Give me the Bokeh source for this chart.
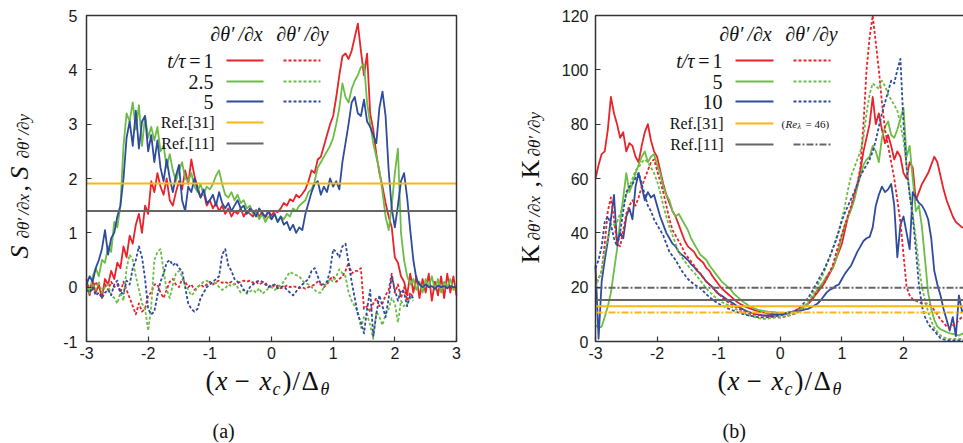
import math
import numpy as np
from bokeh.plotting import figure
from bokeh.layouts import row
from bokeh.models import Label, FixedTicker, Range1d, BoxAnnotation
from bokeh.embed import file_html
from bokeh.resources import INLINE

# ---------------- data ----------------
X = np.round(np.arange(-3.0, 3.0001, 0.05), 2)      # common x grid (x - x_c)/Delta
XD = X[:107]                                          # dotted curves of panel (a) stop at 2.3

# panel (a): skewness S of d theta'/dx (solid) and d theta'/dy (dotted)
A_RED_X = [0.15,-0.15,0.1,-0.1,0.05,-0.2,0.15,0.05,0.3,0.15,
           0.45,0.35,0.75,0.55,0.95,0.8,1.15,1.35,1.0,1.5,
           1.35,1.95,1.75,2.1,1.85,1.7,2.0,1.6,1.5,1.75,
           1.95,1.8,2.15,1.9,2.35,2.05,1.85,1.65,1.75,1.5,
           1.6,1.45,1.55,1.4,1.5,1.35,1.45,1.3,1.4,1.35,
           1.45,1.3,1.4,1.35,1.3,1.42,1.3,1.38,1.28,1.4,
           1.32,1.4,1.38,1.45,1.55,1.5,1.62,1.58,1.7,1.65,
           1.72,1.8,1.95,2.15,2.1,2.35,2.4,2.6,2.8,3.0,
           3.15,3.5,3.9,4.25,4.3,4.2,4.35,4.6,4.85,4.35,
           3.9,4.3,3.2,2.9,2.45,2.1,1.85,1.55,1.3,1.1,
           0.55,0.45,0.2,0.1,-0.15,0.25,-0.1,0.2,-0.2,0.15,
           -0.1,0.25,-0.25,0.1,-0.15,0.2,-0.2,0.25,-0.1,0.2,
           -0.15]
A_GRN_X = [0.05,-0.1,0.2,0.35,0.2,0.5,0.45,0.75,0.65,1.2,
           1.1,1.5,2.6,3.2,3.05,3.4,2.9,3.35,2.6,3.15,
           2.75,2.95,2.7,2.95,2.5,2.6,2.2,2.45,2.15,1.95,
           2.15,2.3,2.0,1.95,2.1,1.85,1.75,1.9,1.7,1.85,
           1.8,1.9,2.05,2.15,1.9,1.7,1.65,1.75,1.6,1.7,
           1.55,1.6,1.45,1.5,1.35,1.4,1.25,1.35,1.2,1.3,
           1.25,1.35,1.2,1.3,1.25,1.35,1.3,1.45,1.4,1.5,
           1.55,1.6,1.75,1.8,1.95,2.2,2.3,2.4,2.5,2.6,
           2.75,3.0,3.3,3.75,3.5,3.4,3.65,3.8,3.9,4.05,
           4.1,3.4,3.0,2.65,2.4,2.15,1.75,1.3,1.05,1.5,
           2.1,2.55,1.0,0.5,0.2,0.05,0.15,-0.05,0.1,-0.1,
           0.15,0.0,0.2,-0.05,0.15,-0.1,0.1,0.0,0.15,-0.05,
           0.05]
A_BLU_X = [0.05,0.2,0.1,0.35,0.5,0.7,1.05,0.6,0.9,1.0,
           1.3,1.5,2.0,2.75,3.05,2.6,3.25,2.55,3.05,3.15,
           2.5,2.8,2.3,2.7,2.2,1.95,2.35,2.0,1.75,2.05,
           2.25,1.6,1.4,1.85,1.75,2.0,1.8,1.65,1.8,1.55,
           1.6,1.7,1.5,1.75,1.55,1.45,1.55,1.4,1.5,1.6,
           1.45,1.5,1.35,1.45,1.4,1.3,1.45,1.35,1.3,1.4,
           1.25,1.35,1.2,1.3,1.15,1.2,1.05,1.15,1.0,1.1,
           1.05,1.35,1.55,1.75,1.9,1.95,1.7,1.85,1.75,2.0,
           1.85,1.95,1.8,2.3,2.65,3.0,3.4,3.5,3.2,3.15,
           3.45,3.05,2.95,2.8,2.65,3.3,3.6,3.15,2.15,1.45,
           1.1,1.5,1.95,2.1,1.65,1.05,0.5,0.15,0.05,0.0,
           0.05,0.0,0.02,-0.03,0.03,0.0,0.02,-0.02,0.02,0.0,
           0.0]
A_RED_Y = [0.0,0.05,-0.05,0.1,0.0,-0.1,0.05,-0.05,0.1,0.0,
           0.05,-0.1,0.1,-0.05,-0.2,-0.35,-0.5,-0.3,-0.45,-0.4,
           -0.15,-0.1,0.05,0.05,-0.1,-0.2,-0.05,0.1,0.15,0.05,
           0.0,0.15,0.1,0.0,0.05,-0.05,0.0,0.05,0.0,0.05,
           0.1,0.05,0.1,0.12,0.08,0.1,0.06,0.1,0.05,0.08,
           0.1,0.12,0.1,0.12,0.08,0.1,0.05,0.08,0.05,0.0,
           0.05,0.0,0.03,-0.02,0.0,0.03,0.0,0.02,0.0,-0.02,
           0.0,-0.03,0.0,0.02,0.05,0.1,0.05,0.0,0.05,0.15,
           0.2,0.1,0.15,0.2,0.3,0.45,0.25,0.3,0.3,0.35,
           -0.4,-0.35,-0.45,-0.3,-0.2,-0.35,-0.3,-0.15,-0.05,0.25,
           -0.1,0.05,-0.2,0.0,-0.25,-0.1,-0.2]
A_GRN_Y = [0.0,-0.1,0.05,-0.05,0.1,-0.1,0.0,0.05,-0.15,-0.2,
           -0.3,-0.1,-0.25,0.35,0.6,0.5,0.2,-0.05,-0.3,-0.4,
           -0.8,-0.35,0.5,0.65,0.7,0.3,-0.05,-0.2,0.05,0.25,
           0.3,0.2,0.05,-0.05,-0.15,-0.1,0.0,0.05,0.1,0.12,
           0.08,0.05,0.08,0.0,-0.05,-0.02,0.05,0.02,0.06,0.0,
           -0.1,-0.05,-0.12,-0.08,-0.05,-0.1,-0.02,-0.12,-0.08,-0.02,
           0.0,-0.05,-0.02,0.05,0.1,0.2,0.28,0.25,0.22,0.2,
           0.12,0.08,0.05,0.0,-0.05,-0.1,-0.1,0.0,0.08,0.15,
           0.1,0.2,0.33,0.25,0.2,-0.1,-0.25,-0.35,-0.45,-0.75,
           -0.55,-0.5,-0.7,-0.95,-0.45,-0.55,-0.7,-0.5,-0.4,-0.2,
           -0.3,-0.65,-0.25,-0.35,-0.3,-0.2,-0.25]
A_BLU_Y = [-0.05,-0.1,0.0,-0.15,-0.1,-0.2,-0.1,-0.05,-0.15,0.05,
           0.12,-0.1,-0.12,0.12,0.05,0.35,0.5,0.75,0.55,0.15,
           -0.4,-0.5,-0.45,-0.15,0.1,0.25,0.45,0.5,0.4,0.45,
           0.35,0.3,0.0,-0.3,-0.4,-0.45,-0.4,-0.2,-0.1,0.0,
           0.05,0.1,0.15,0.2,0.6,0.7,0.4,0.3,0.15,0.1,
           0.05,-0.05,-0.1,0.0,0.05,0.1,0.12,0.1,0.08,0.0,
           0.02,0.05,-0.02,0.0,0.02,-0.05,-0.1,-0.15,-0.08,0.0,
           0.05,0.1,0.15,0.3,0.35,0.2,0.05,0.05,0.1,0.3,
           0.7,0.65,0.55,0.75,0.8,0.45,0.1,-0.2,-0.5,-0.65,
           -0.85,-0.4,-0.05,-0.9,-0.5,-0.15,-0.35,-0.55,-0.2,0.2,
           -0.05,-0.25,-0.05,-0.1,-0.35,-0.15,-0.2]
A_REF31 = 1.91
A_REF11 = 1.40

# panel (b): flatness K
B_RED_X = [60,65,69,70,78,90,84,80,75,77,
           70,73,72,68,66,72,77,80,74,70,
           68,63,58,54,51,48,46,43,40,37,
           35,34,33,31,30,29,27,26,24,22.5,
           21,19.5,18.5,17.5,16.5,15.5,14.5,13.8,13.2,12.6,
           12.2,11.8,11.4,11.0,10.8,10.6,10.3,10.2,10.1,10.0,
           10.0,10.2,10.5,10.8,11.0,11.4,12,12.6,13.2,13.9,
           15,16.5,18,19.5,21,23,25,27,30,33,
           36,41,46,49,53,57,63,70,75,80,
           90,80,84,78,73,76,72,67,70,68,
           62,60,66,64,52,55,58,60,62,65,
           68,66,61,56,52,49,46,44,43,42,
           42]
B_RED_Y = [22,23,26,36,48,53,45,36,35,41,
           47,50,52,50,53,57,60,63,66,67,
           63,59,55,50,45,41,39,37,35,32.5,
           31,29.5,28,26.5,25,23.5,22,21,19.8,18.8,
           17.5,16.5,15.3,14.5,13.8,13,12.4,11.8,11.2,10.7,
           10.2,10,9.8,9.7,9.6,9.4,9.3,9.2,9.0,8.9,
           8.8,9,9.3,9.6,10,10.3,11,11.8,12.8,13.9,
           15.3,16.8,18.3,19.5,21,23,25.5,28,32,36,
           39.5,43,46.5,50,54,58,64,80,100,112,
           120,110,100,88,78,72,66,60,52,44,
           32,20,17,15.5,15,14.5,14,14,13.9,13,
           11.5,10,8,7,5.5,5,6,6.5,8,9,
           9.5]
B_GRN_X = [6,5,5.5,9,13,18,26,34,44,53,
           62,55,58,62,65,68,70,66,68,69,
           65,62,57,54,52,48,46,47,45,43,
           41,38,36,34,32,31,30,28,26.5,25,
           23.5,22,21,20,19,17.5,16.5,15.5,14.5,13.8,
           13,12.4,12,11.6,11.4,11.2,11.0,10.9,10.8,10.6,
           10.4,10.3,10.4,10.6,10.8,11,11.6,12.2,13,13.9,
           15.5,17,19,20.5,22,24,25.5,27,30,34,
           39,43,46,48.5,52,57,61,65,67,68,
           72,70,66,75,79,81,76,75,78,82,
           86,68,72,60,48,50,42,30,18,12,
           8,5.5,4.5,4,3.5,3,2.8,2.5,2.2,2.8,
           3]
B_GRN_Y = [20,23,26,33,38,42,43,44,47,50,
           54,57,60,63,64,66,67,66,64,62,
           59,55,50,46,42,39,36,33,31,29.5,
           28,26.5,25.5,24,22.5,21,19.5,18.3,17.2,16.2,
           15.3,14.5,14,13.4,12.8,12.2,11.6,11,10.5,10,
           9.6,9.2,8.9,8.6,8.4,8.3,8.4,8.6,8.8,9,
           9,9.2,9.4,9.7,10,10.3,11,12,13.2,14.5,
           16.3,18.5,20.5,22.5,25,28,31,34,37.5,41,
           45,50,56,61,64,67,70,75,84,91,
           95,94,93,96,94,91,89,87,85,80,
           74,65,55,47,38,28,20,15,11,7.5,
           5,3.5,2.2,1.5,1.2,1,1,1,1,1,
           1]
B_BLU_X = [28,1,22,30,37,45,54,36,40,38,
           46,49,45,57,62,57,52,55,53,54,
           50,46,43,40,38,36,35,33,32,31,
           30,28.5,27.5,26,25,23.5,22,21,20,18.5,
           17.5,16.8,16,15.2,14.5,13.8,13,12.4,11.8,11.2,
           10.8,10.4,10.1,9.9,9.7,9.6,9.6,9.7,9.8,9.9,
           10,10.2,10.4,10.6,10.8,11,11.2,11.5,11.8,12,
           12.6,13.2,13.9,15,16.5,18,19,19.5,20.5,21,
           23,25,26.5,28,30.5,33,35,37,38,38.5,
           42,50,54,57,55,56,58,50,31,43,
           46,40,34,55,53,51,50,48,45,38,
           26,21,17,12,8,4,9,2,17,11,
           12]
B_BLU_Y = [27,30,35,44,46,43,38,35,40,48,
           55,57,58,60,62,58,54,50,48,45,
           43,41,39,36,33,31.5,30,28,26,24.5,
           23,22,21,20.3,19.6,18.5,17.4,16.3,15.5,14.6,
           13.9,13.3,12.8,12.2,11.7,11.3,10.8,10.4,10.1,9.8,
           9.5,9.3,9.1,9.0,8.9,8.9,9.0,9.1,9.2,9.4,
           9.6,9.9,10.2,10.6,11,11.4,12.3,13.3,14.6,16,
           17.8,19.8,21.8,24,26,28.5,31,34,37,40.5,
           44.5,47.5,50,52.5,55,58,61,63,65,67,
           70,74,79,84,88,92,96,95,100,104,
           80,64,54,46,34,21,13,9,6.5,5,
           4,2.5,1.2,0.8,0.5,0.4,0.4,0.4,0.4,0.4,
           0.4]
B_REF31_X = 13.0
B_REF31_Y = 10.7
B_REF11_X = 15.3
B_REF11_Y = 19.8

A_X_TICKS = [-3, -2, -1, 0, 1, 2, 3]
B_X_TICKS = [-3, -2, -1, 0, 1, 2]
A_Y_TICKS = [-1, 0, 1, 2, 3, 4, 5]
B_Y_TICKS = [0, 20, 40, 60, 80, 100, 120]
A_TIMES = ["t/τ", "2.5", "5"]
B_TIMES = ["t/τ", "5", "10"]

# ---------------- style ----------------
RED, GREEN, BLUE = "#e8232a", "#6cbd45", "#2e4b9e"
ORANGE, GRAY = "#fbb614", "#666666"
SERIF = "Liberation Serif"
SANS = "Liberation Sans"
TXT = "#111111"
DOT = "3 2"
DASHDOT = "7 2 2 2"
H = 443


class Panel:
    """Figure whose frame fills the canvas; the plotting box is placed in pixels."""

    def __init__(self, width, ox, box, xlim, ylim, xticks, yticks, ystand):
        self.ox = ox
        bx0, bx1, by0, by1 = box
        (xlo, xhi), (ylo, yhi) = xlim, ylim
        sx = (bx1 - bx0) / (xhi - xlo)
        sy = (by1 - by0) / (yhi - ylo)
        self.box, self.xlim, self.ylim = box, xlim, ylim
        xr = Range1d(xlo - bx0 / sx, xhi + (width - bx1) / sx)
        yr = Range1d(ylo - (H - by1) / sy, yhi + by0 / sy)
        p = figure(width=width, height=H, x_range=xr, y_range=yr,
                   output_backend="svg", toolbar_location=None,
                   min_border_left=0, min_border_right=0,
                   min_border_top=0, min_border_bottom=0)
        p.title.visible = False
        p.grid.visible = False
        p.outline_line_color = None
        p.background_fill_color = "white"
        p.border_fill_color = "white"
        p.xaxis[0].fixed_location = ylo
        p.yaxis[0].fixed_location = xlo
        for ax, ticks in ((p.xaxis[0], xticks), (p.yaxis[0], yticks)):
            ax.ticker = FixedTicker(ticks=ticks)
            ax.major_label_overrides = {t: str(t) for t in ticks}
            ax.axis_line_color = None
            ax.major_tick_in = 5
            ax.major_tick_out = 0
            ax.major_tick_line_color = "#333333"
            ax.major_tick_line_width = 1.2
            ax.minor_tick_line_color = None
            ax.major_label_text_font = SANS
            ax.major_label_text_font_size = "16px"
            ax.major_label_text_color = "#1a1a1a"
        p.xaxis[0].major_label_standoff = 5
        p.yaxis[0].major_label_standoff = ystand
        p.add_layout(BoxAnnotation(left=xlo, right=xhi, bottom=ylo, top=yhi,
                                   fill_alpha=0, line_color="#333333",
                                   line_width=1.5, line_alpha=1.0))
        self.p = p

    def conv(self, px, py):
        bx0, bx1, by0, by1 = self.box
        (xlo, xhi), (ylo, yhi) = self.xlim, self.ylim
        cx = px - self.ox
        return (xlo + (cx - bx0) * (xhi - xlo) / (bx1 - bx0),
                yhi - (py - by0) * (yhi - ylo) / (by1 - by0))

    def txt(self, px, py, text, size, style="normal", align="left", angle=0.0):
        # (px, py): page pixel of the left/centre/right end of the text's middle line
        x, y = self.conv(px, py)
        self.p.add_layout(Label(x=x, y=y, text=text, text_font=SERIF,
                                text_font_size=f"{size}px", text_font_style=style,
                                text_align=align, text_baseline="middle",
                                angle=angle, text_color=TXT))

    def curves(self, xs, series, dash):
        for ys, col in series:
            self.p.line(xs, ys, line_color=col, line_width=1.8, line_dash=dash,
                        line_join="round")

    def ref(self, level, color, dash="solid"):
        xlo, xhi = self.xlim
        self.p.segment([xlo], [level], [xhi], [level], line_color=color,
                       line_width=2, line_dash=dash)

    def legend(self, lab_right, solid, dotted, rows, hx):
        for cx, t in zip(hx, ["∂θ′\u2009/∂x", "∂θ′\u2009/∂y"]):
            self.txt(cx, 33, t, 20, "italic", "center")
        for (py, label, c_solid, c_dot, dash2) in rows:
            if label == "t/τ":
                self.txt(lab_right, py, "1", 20, "normal", "right")
                self.txt(lab_right - 13, py, "=", 20, "normal", "right")
                self.txt(lab_right - 28, py, "t/τ", 20, "italic", "right")
            elif label.startswith("Ref"):
                self.txt(lab_right + 1, py, label, 16, "normal", "right")
            else:
                self.txt(lab_right, py, label, 20, "normal", "right")
            x0, y0 = self.conv(solid[0], py)
            x1, _ = self.conv(solid[1], py)
            self.p.segment([x0], [y0], [x1], [y0], line_color=c_solid, line_width=2)
            if c_dot is not None:
                x0, _ = self.conv(dotted[0], py)
                x1, _ = self.conv(dotted[1], py)
                self.p.segment([x0], [y0], [x1], [y0], line_color=c_dot,
                               line_width=2, line_dash=dash2)

    def xlabel(self, start, tag, tag_x):
        pieces = [("(", 0, 380, 27, "normal"), ("x", 10, 380, 27, "italic"),
                  ("−", 29, 380, 27, "normal"), ("x", 54, 380, 27, "italic"),
                  ("c", 67, 388, 18, "italic"), (")", 77, 380, 27, "normal"),
                  ("/", 87, 380, 27, "normal"), ("Δ", 96, 380, 27, "normal"),
                  ("θ", 115, 388, 18, "italic")]
        for t, dx, py, size, style in pieces:
            self.txt(start + dx, py, t, size, style)
        self.txt(tag_x, 430, tag, 20, "normal")

    def ylabel(self, letter, style, cx_big, cx_sub, starts):
        a = math.pi / 2
        s0, s1, s2, s3, s4 = starts
        self.txt(cx_big, s0, letter, 26, style, angle=a)
        self.txt(cx_sub, s1, "∂θ′\u2009/∂x", 17, "italic", angle=a)
        self.txt(cx_big, s2, ",", 26, "normal", angle=a)
        self.txt(cx_big, s3, letter, 26, style, angle=a)
        self.txt(cx_sub, s4, "∂θ′\u2009/∂y", 17, "italic", angle=a)


# ---------------- panel (a) ----------------
A = Panel(480, 0, (86, 456, 15, 341), (-3, 3), (-1, 5), A_X_TICKS, A_Y_TICKS, 9)
A.curves(X, [(A_RED_X, RED), (A_GRN_X, GREEN), (A_BLU_X, BLUE)], "solid")
A.curves(XD, [(A_RED_Y, RED), (A_GRN_Y, GREEN), (A_BLU_Y, BLUE)], DOT)
A.ref(A_REF31, ORANGE)
A.ref(A_REF11, GRAY)
A.legend(213, (226, 263), (283, 320),
         [(60, A_TIMES[0], RED, RED, DOT), (81, A_TIMES[1], GREEN, GREEN, DOT),
          (101, A_TIMES[2], BLUE, BLUE, DOT), (122, "Ref.[31]", ORANGE, None, None),
          (143, "Ref.[11]", GRAY, None, None)],
         (236, 302))
A.xlabel(205, "(a)", 212)
A.ylabel("S", "italic", 19, 23, (258, 238, 191, 179, 158))

# ---------------- panel (b) ----------------
B = Panel(483, 480, (115, 115 + 6 * 61.6, 15, 341), (-3, 3), (0, 120),
          B_X_TICKS, B_Y_TICKS, 7)
B.curves(X, [(B_RED_X, RED), (B_GRN_X, GREEN), (B_BLU_X, BLUE)], "solid")
B.curves(X, [(B_RED_Y, RED), (B_GRN_Y, GREEN), (B_BLU_Y, BLUE)], DOT)
B.ref(B_REF11_Y, GRAY, DASHDOT)
B.ref(B_REF11_X, GRAY)
B.ref(B_REF31_X, ORANGE)
B.ref(B_REF31_Y, ORANGE, DASHDOT)
B.legend(722, (735, 773), (793, 830),
         [(60, B_TIMES[0], RED, RED, DOT), (81, B_TIMES[1], GREEN, GREEN, DOT),
          (101, B_TIMES[2], BLUE, BLUE, DOT), (123, "Ref.[31]", ORANGE, None, None),
          (144, "Ref.[11]", GRAY, GRAY, DASHDOT)],
         (745, 811))
B.txt(781, 123, "(", 11, "normal")
B.txt(785, 123, "Re", 11, "italic")
B.txt(797, 126, "λ", 8, "italic")
B.txt(805, 123, "= 46)", 11, "normal")
B.xlabel(717, "(b)", 722)
B.ylabel("K", "normal", 530, 534, (263, 240, 187, 178, 156))

layout = row(A.p, B.p)
open("out.html", "w").write(file_html(layout, INLINE))
